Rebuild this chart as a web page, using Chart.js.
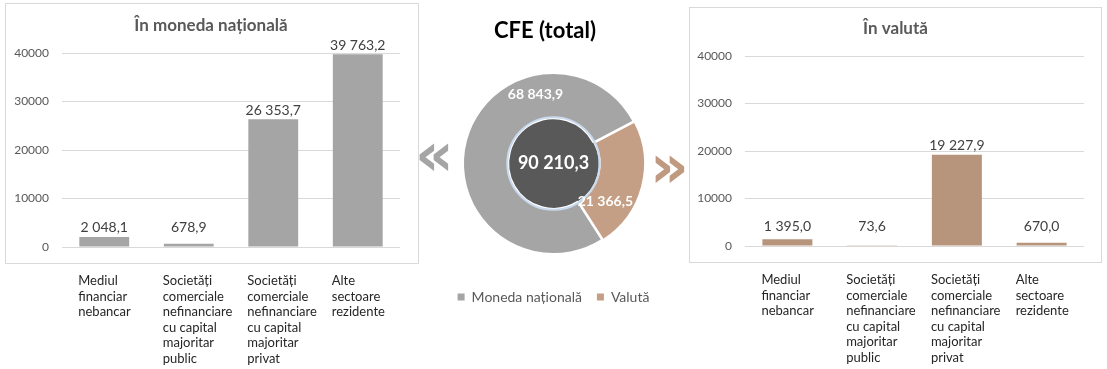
<!DOCTYPE html>
<html>
<head>
<meta charset="utf-8">
<script src="https://cdn.jsdelivr.net/npm/chart.js@4/dist/chart.umd.min.js"></script>
<style>
  html, body { margin: 0; padding: 0; background: #fff; }
  body { width: 1107px; height: 369px; position: relative; overflow: hidden; font-family: Lato, sans-serif; }
  .box { position: absolute; border: 1px solid #D9D9D9; box-sizing: border-box; z-index: 0; }
  canvas { position: absolute; z-index: 1; }
  .chev { position: absolute; z-index: 3; font-family: "DejaVu Sans", sans-serif; font-weight: bold; font-size: 60px; line-height: 60px; }
</style>
</head>
<body>
<div class="box" style="left:5px;top:3px;width:414px;height:261px;"></div>
<div class="box" style="left:689px;top:7px;width:413px;height:256px;"></div>
<div id="wm" style="position:absolute;left:395px;top:0;width:300px;height:369px;z-index:1;"><canvas id="cMid"></canvas></div>
<div id="wl" style="position:absolute;left:0;top:0;width:420px;height:369px;z-index:2;"><canvas id="cLeft"></canvas></div>
<div id="wr" style="position:absolute;left:685px;top:0;width:422px;height:369px;z-index:2;"><canvas id="cRight"></canvas></div>
<div class="chev" style="left:415px;top:124px;color:#A5A5A5;">«</div>
<div class="chev" style="left:650px;top:136px;color:#BF9A80;">»</div>
<script>
// ---------- DATA ----------
const categories = [
  ["Mediul", "financiar", "nebancar"],
  ["Societăți", "comerciale", "nefinanciare", "cu capital", "majoritar", "public"],
  ["Societăți", "comerciale", "nefinanciare", "cu capital", "majoritar", "privat"],
  ["Alte", "sectoare", "rezidente"]
];
const nationalValues = [2048.1, 678.9, 26353.7, 39763.2];
const foreignValues = [1395.0, 73.6, 19227.9, 670.0];
const totalLabels = ["Moneda națională", "Valută"];
const totalValues = [68843.9, 21366.5];
const grandTotal = [90210.3];
const yTicks = [0, 10000, 20000, 30000, 40000];
const titles = { left: "În moneda națională", mid: "CFE (total)", right: "În valută" };

// ---------- helpers ----------
function fmt(v) {
  const parts = v.toFixed(1).split(".");
  const intPart = parts[0].replace(/\B(?=(\d{3})+(?!\d))/g, " ");
  return intPart + "," + parts[1];
}
const FONT = "Lato, 'Open Sans', sans-serif";

// an empty, invisible axis used only to reserve horizontal room
function spacer(pos, w) {
  return { type: "linear", position: pos, display: true,
           grid: { display: false, drawTicks: false }, border: { display: false },
           ticks: { display: false }, afterFit: s => { s.width = w; } };
}

const barLabelPlugin = {
  id: "barLabels",
  afterDatasetsDraw(chart) {
    const ctx = chart.ctx;
    const meta = chart.getDatasetMeta(0);
    const data = chart.data.datasets[0].data;
    ctx.save();
    ctx.font = "14px " + FONT;
    ctx.fillStyle = "#404040";
    ctx.textAlign = "center";
    ctx.textBaseline = "middle";
    meta.data.forEach((bar, i) => {
      const y = Math.min(bar.y, bar.base - 10) - 9;
      ctx.fillText(fmt(data[i]), bar.x, y);
    });
    ctx.restore();
  }
};

function barConfig(values, color, title, padTop, padL, padR, yWidth, rightRoom, xHeight) {
  return {
    type: "bar",
    data: {
      labels: categories,
      datasets: [{ data: values, backgroundColor: color, borderWidth: 0,
                   categoryPercentage: 1.0, barPercentage: 0.59 }]
    },
    options: {
      responsive: true, maintainAspectRatio: false, animation: false,
      layout: { padding: { left: padL, right: padR, top: 0, bottom: 0 } },
      plugins: {
        legend: { display: false },
        tooltip: { enabled: false },
        title: { display: true, text: title, color: "#595959",
                 font: { family: FONT, size: 17, weight: "bold", lineHeight: 1.2 },
                 padding: { top: padTop[0], bottom: padTop[1] } }
      },
      scales: {
        x: {
          grid: { display: false, drawTicks: false },
          border: { display: false },
          ticks: { color: "#262626", font: { family: FONT, size: 13, lineHeight: 1.2 },
                   align: "start", labelOffset: -26, padding: 26, maxRotation: 0, autoSkip: false },
          afterFit: s => { s.height = xHeight; s.paddingLeft = 0; s.paddingRight = 0; }
        },
        y: {
          min: yTicks[0], max: yTicks[yTicks.length - 1],
          afterBuildTicks: s => { s.ticks = yTicks.map(v => ({ value: v })); },
          grid: { color: "#D9D9D9", drawTicks: false, lineWidth: 1 },
          border: { display: false },
          ticks: { color: "#595959", font: { family: FONT, size: 12 }, padding: 13,
                   callback: v => String(v) },
          afterFit: s => { s.width = yWidth; s.paddingTop = 0; s.paddingBottom = 0; }
        },
        yRoom: spacer("right", rightRoom)
      }
    },
    plugins: [barLabelPlugin]
  };
}

new Chart(document.getElementById("cLeft"),
  barConfig(nationalValues, "#A5A5A5", titles.left, [15, 17.6], 2, 0, 60, 20, 122));
new Chart(document.getElementById("cRight"),
  barConfig(foreignValues, "#B7957D", titles.right, [18, 17.6], 0, 1, 60, 22, 123));

// ---------- doughnut ----------
const arcLabelPlugin = {
  id: "arcLabels",
  afterDatasetsDraw(chart) {
    const ctx = chart.ctx;
    const at = [0.72, 0.75];
    const radial = [0.57, 0.42];
    ctx.save();
    const inner = chart.getDatasetMeta(1).data[0];
    ctx.beginPath();
    ctx.arc(inner.x, inner.y, inner.outerRadius, 0, Math.PI * 2);
    ctx.strokeStyle = "#C9DAEE";
    ctx.lineWidth = 2;
    ctx.stroke();
    ctx.fillStyle = "#FFFFFF";
    ctx.textAlign = "center";
    ctx.textBaseline = "middle";
    ctx.font = "bold 14px " + FONT;
    const outer = chart.getDatasetMeta(0);
    outer.data.forEach((arc, i) => {
      const a = arc.startAngle + at[i] * (arc.endAngle - arc.startAngle);
      const r = arc.innerRadius + radial[i] * (arc.outerRadius - arc.innerRadius);
      ctx.fillText(fmt(chart.data.datasets[0].data[i]), arc.x + Math.cos(a) * r, arc.y + Math.sin(a) * r);
    });
    ctx.font = "bold 18px " + FONT;
    ctx.fillText(fmt(chart.data.datasets[1].data[0]), inner.x, inner.y);
    ctx.restore();
  }
};

new Chart(document.getElementById("cMid"), {
  type: "pie",
  data: {
    labels: totalLabels,
    datasets: [
      { data: totalValues, backgroundColor: ["#A5A5A5", "#C49F86"],
        borderColor: "#FFFFFF", borderWidth: 2, offset: [0, 4] },
      { data: grandTotal, backgroundColor: ["#595959"], borderWidth: 0 }
    ]
  },
  options: {
    responsive: true, maintainAspectRatio: false, animation: false,
    rotation: 147.5,
    layout: { padding: { left: 0, right: 0, top: 0, bottom: 55 } },
    scales: { room: spacer("left", 17) },
    plugins: {
      tooltip: { enabled: false },
      title: { display: true, text: titles.mid, color: "#000000",
               font: { family: FONT, size: 22, weight: "bold", lineHeight: 1.2 },
               padding: { top: 18, bottom: 25.6 } },
      legend: {
        position: "bottom",
        fullSize: false,
        title: { display: true, text: "", font: { size: 1, lineHeight: 1.2 }, padding: { top: 16.8, bottom: 0 } },
        labels: {
          color: "#595959", font: { family: FONT, size: 14 },
          boxWidth: 7, boxHeight: 7, padding: 15,
          generateLabels: chart => {
            const items = Chart.overrides.pie.plugins.legend.labels.generateLabels(chart);
            items.forEach(it => { it.lineWidth = 0; });
            return items;
          }
        }
      }
    }
  },
  plugins: [arcLabelPlugin]
});
</script>
</body>
</html>
